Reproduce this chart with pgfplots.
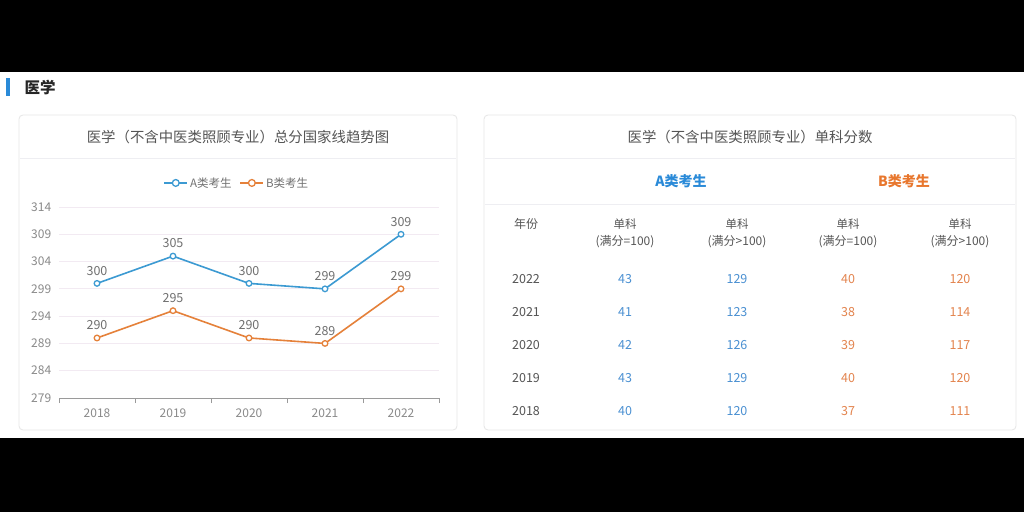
\documentclass[border=0pt]{standalone}
\usepackage{pgfplots}
\pgfplotsset{compat=1.18}
\usepackage{fontspec}
\setmainfont{Noto Sans CJK SC}
\definecolor{ablue}{HTML}{3C9AD2}
\definecolor{borange}{HTML}{E5813A}
\definecolor{tblue}{HTML}{4A90D2}
\definecolor{torange}{HTML}{E3844E}
\definecolor{hblue}{HTML}{2A8AD8}
\definecolor{horange}{HTML}{E8772E}
\definecolor{titlegray}{HTML}{555555}
\definecolor{tickgray}{HTML}{8A8A8A}
\definecolor{labgray}{HTML}{707070}
\definecolor{yrgray}{HTML}{555555}
\definecolor{gridc}{HTML}{F2EAF2}
\definecolor{panelb}{HTML}{E6E6E6}
\definecolor{sepc}{HTML}{EEEEF2}
\definecolor{axisc}{HTML}{9A9A9A}
\begin{document}
\begin{tikzpicture}
\fill[black] (0pt,0pt) rectangle (1024pt,512pt);
\fill[white] (0pt,74pt) rectangle (1024pt,440pt);
% header
\fill[hblue] (6pt,416pt) rectangle (10pt,434pt);
\node[anchor=west, font=\fontsize{15.5}{18}\selectfont\bfseries, text=black!85] at (21pt,425pt) {医学};
% panels
\draw[panelb, line width=0.8pt, rounded corners=4pt] (19pt,82pt) rectangle (457pt,397pt);
\draw[panelb, line width=0.8pt, rounded corners=4pt] (484pt,82pt) rectangle (1016pt,397pt);
\draw[sepc, line width=0.8pt] (20pt,354pt) -- (456pt,354pt);
\draw[sepc, line width=0.8pt] (485pt,354pt) -- (1015pt,354pt);
\draw[sepc, line width=0.8pt] (485pt,308pt) -- (1015pt,308pt);
% titles
\node[font=\fontsize{14.4}{17}\selectfont, text=titlegray] at (238pt,375pt) {医学（不含中医类照顾专业）总分国家线趋势图};
\node[font=\fontsize{14.4}{17}\selectfont, text=titlegray] at (750pt,375pt) {医学（不含中医类照顾专业）单科分数};
% table header
\node[font=\fontsize{14}{17}\selectfont\bfseries, text=hblue] at (681pt,331pt) {A类考生};
\node[font=\fontsize{14}{17}\selectfont\bfseries, text=horange] at (904pt,331pt) {B类考生};
\node[font=\fontsize{12}{14}\selectfont, text=yrgray] at (526pt,288pt) {年份};
\foreach \x/\s in {625/=, 737/>, 848/=, 960/>} {
  \node[font=\fontsize{11.5}{13}\selectfont, text=yrgray] at (\x pt,288pt) {单科};
  \node[font=\fontsize{12}{13}\selectfont, text=yrgray] at (\x pt,270pt) {(满分\s100)};
}
\foreach \y/\yr/\a/\b/\c/\d in {233/2022/43/129/40/120, 200/2021/41/123/38/114, 167/2020/42/126/39/117, 134/2019/43/129/40/120, 101/2018/40/120/37/111} {
  \node[font=\fontsize{12.5}{14}\selectfont, text=yrgray] at (526pt,\y pt) {\yr};
  \node[font=\fontsize{12.5}{14}\selectfont, text=tblue] at (625pt,\y pt) {\a};
  \node[font=\fontsize{12.5}{14}\selectfont, text=tblue] at (737pt,\y pt) {\b};
  \node[font=\fontsize{12.5}{14}\selectfont, text=torange] at (848pt,\y pt) {\c};
  \node[font=\fontsize{12.5}{14}\selectfont, text=torange] at (960pt,\y pt) {\d};
}
\begin{axis}[
  at={(59pt,114pt)}, anchor=south west,
  scale only axis, width=380pt, height=191pt,
  xmin=-0.5, xmax=4.5, ymin=279, ymax=314,
  xtick={0,1,2,3,4}, xticklabels={2018,2019,2020,2021,2022},
  minor xtick={-0.5,0.5,1.5,2.5,3.5,4.5},
  ytick={279,284,...,314},
  axis x line=bottom, axis y line=left,
  axis line style={-},
  x axis line style={draw=axisc, line width=1pt},
  y axis line style={draw=none},
  major x tick style={draw=none},
  minor x tick style={draw=axisc, line width=1pt},
  tick align=outside,
  minor tick length=5pt,
  ytick style={draw=none},
  ymajorgrids, grid style={gridc, line width=0.8pt},
  tick label style={font=\fontsize{12}{14}\selectfont, text=tickgray},
  /pgf/number format/assume math mode=true,
  yticklabel style={xshift=0pt},
  xticklabel style={yshift=-3pt},
  nodes near coords,
  every node near coord/.append style={font=\fontsize{12.5}{14}\selectfont, text=labgray, yshift=4pt},
  legend columns=2,
  legend style={at={(0.468,1.126)}, anchor=center, draw=none, fill=none,
    font=\fontsize{11.5}{13}\selectfont, text=labgray,
    /tikz/every even column/.append style={column sep=6pt}},
  legend image code/.code={\draw[#1, mark repeat=2, mark phase=2, mark size=3.4pt] plot coordinates {(0pt,0pt)(11.5pt,0pt)(23pt,0pt)};},
  clip=false,
]
\addplot[color=ablue, line width=1.6pt, mark=*, mark size=2.8pt, mark options={fill=white, draw=ablue, line width=1.3pt}]
  coordinates {(0,300) (1,305) (2,300) (3,299) (4,309)};
\addlegendentry{A类考生}
\addplot[color=borange, line width=1.6pt, mark=*, mark size=2.8pt, mark options={fill=white, draw=borange, line width=1.3pt}]
  coordinates {(0,290) (1,295) (2,290) (3,289) (4,299)};
\addlegendentry{B类考生}
\end{axis}
\pgfresetboundingbox
\useasboundingbox (0pt,0pt) rectangle (1024pt,512pt);
\end{tikzpicture}
\end{document}
